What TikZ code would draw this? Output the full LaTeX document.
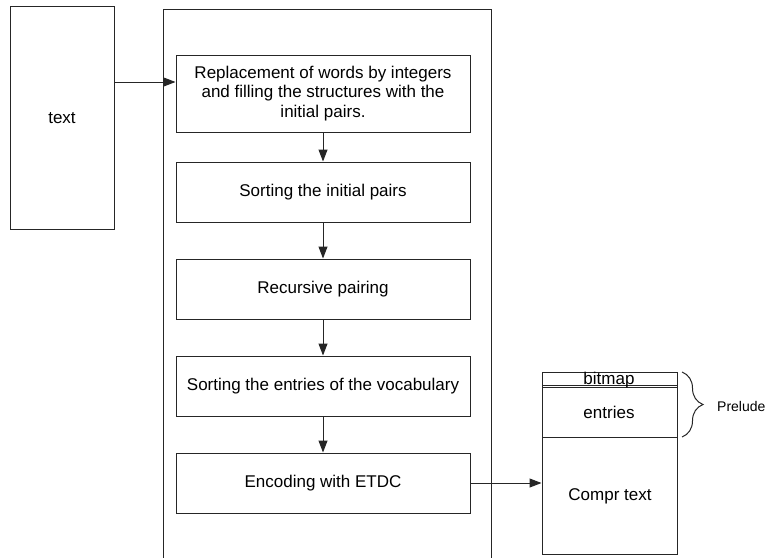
\documentclass[tikz,border=0pt]{standalone}
\usepackage{fontspec}
\setmainfont{Liberation Sans}
\usetikzlibrary{arrows.meta,decorations.pathreplacing}
\begin{document}
\begin{tikzpicture}[x=1pt,y=-1pt,
  ln/.style={draw=black!85,line width=1pt},
  flowbox/.style={ln,rectangle,minimum width=294pt,minimum height=60pt,align=center,inner sep=0pt,font=\fontsize{17}{19.5}\selectfont},
  arr/.style={ln,-{Triangle[length=12pt,width=9pt]}},
  lbl/.style={font=\fontsize{17}{19.5}\selectfont,inner sep=0pt}]
\useasboundingbox (0,0) rectangle (770,557);
% container
\draw[ln] (163,560) -- (163,9) -- (491,9) -- (491,560);
% text box
\node[ln,rectangle,minimum width=104pt,minimum height=223pt,inner sep=0pt] (txt) at (62,117.5) {};
\node[lbl] (txtl) at (62,118) {text};
% flow boxes
\node[flowbox,minimum height=77pt] (b1) at (323,93.5) {Replacement of words by integers\\and filling the structures with the\\initial pairs.};
\node[flowbox] (b2) at (323,192) {Sorting the initial pairs};
\node[flowbox] (b3) at (323,289) {Recursive pairing};
\node[flowbox] (b4) at (323,386) {Sorting the entries of the vocabulary};
\node[flowbox] (b5) at (323,483) {Encoding with ETDC};
% arrows
\coordinate (ta) at ([yshift=35.5pt]txt.east);
\draw[arr] (ta) -- (b1.west |- ta);
\draw[arr] (b1.south) -- (b2.north);
\draw[arr] (b2.south) -- (b3.north);
\draw[arr] (b3.south) -- (b4.north);
\draw[arr] (b4.south) -- (b5.north);
% compressed structure
\node[ln,rectangle,minimum width=135pt,minimum height=182pt,inner sep=0pt] (cmp) at (609.5,463) {};
\draw[ln] (542,385) -- (677,385);
\draw[ln] (542,387.5) -- (677,387.5);
\draw[ln] (542,437) -- (677,437);
\node[lbl,anchor=base] (bm) at (609,384) {bitmap};
\node[lbl] (en) at (609,412) {entries};
\node[lbl] (ct) at (610,496) {Compr text};
\draw[arr] (b5.east) -- (cmp.west |- b5.east);
% brace
\draw[ln,decorate,decoration={brace,amplitude=21pt,aspect=0.5}] (682,372) -- (682,437);
\node[font=\fontsize{14}{16}\selectfont,anchor=west,inner sep=0pt] (pre) at (717,406) {Prelude};
\end{tikzpicture}
\end{document}
